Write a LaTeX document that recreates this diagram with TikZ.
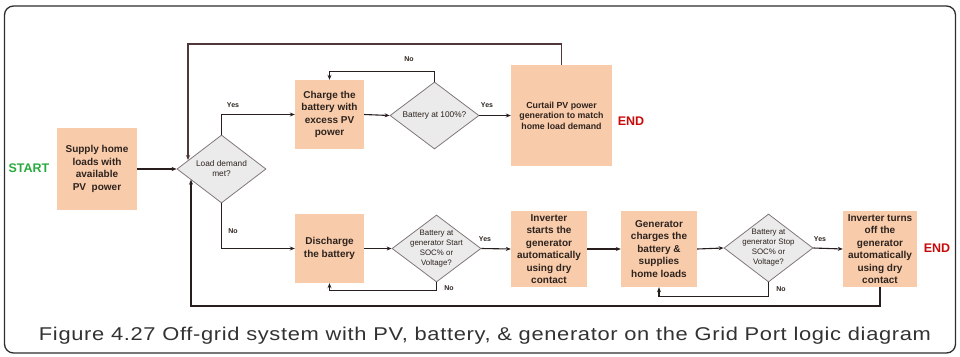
\documentclass[tikz,border=0pt]{standalone}
\usepackage{fontspec}
\setmainfont{Liberation Sans}
\usetikzlibrary{shapes.geometric,arrows.meta,calc}
\definecolor{peach}{RGB}{248,203,170}
\definecolor{dgray}{RGB}{235,235,235}
\definecolor{dborder}{RGB}{130,120,120}
\definecolor{txt}{RGB}{45,35,30}
\definecolor{conn}{RGB}{40,30,30}
\definecolor{loopc}{RGB}{80,55,58}
\definecolor{startg}{RGB}{40,170,60}
\definecolor{endr}{RGB}{200,10,10}
\definecolor{capc}{RGB}{50,50,50}
\tikzset{
  box/.style={rectangle, fill=peach, inner sep=0pt, align=center, text=txt,
    font=\fontsize{10}{12.5}\selectfont\bfseries},
  dia/.style={diamond, fill=dgray, draw=dborder, line width=0.8pt, inner sep=0pt},
  dtext/.style={align=center, text=txt, font=\fontsize{8.3}{10}\selectfont},
  arr/.style={draw=conn, line width=1.1pt, -{Stealth[length=5pt,width=4pt]}},
  lbl/.style={text=txt, font=\fontsize{7}{8}\selectfont\bfseries},
  endlbl/.style={text=endr, font=\fontsize{12.5}{14}\selectfont\bfseries},
}
\begin{document}
\begin{tikzpicture}[x=1pt,y=-1pt]
\useasboundingbox (0,0) rectangle (960,356);
\draw[capc!90!black, line width=1.3pt, rounded corners=9pt] (4.5,6) rectangle (955.5,353);

% nodes
\node[text=startg, font=\fontsize{12.5}{14}\selectfont\bfseries] (start) at (29,168) {START};
\node[box, minimum width=80pt, minimum height=82pt] (supply) at (97,169) {Supply home\\loads with\\available\\PV\ \ power};
\node[dia, minimum width=89pt, minimum height=68pt] (d1) at (221.5,169) {};
\node[dtext] at (d1) {Load demand\\met?};
\node[box, minimum width=69pt, minimum height=69pt] (charge) at (329.5,114.5) {Charge the\\battery with\\excess PV\\power};
\node[dia, minimum width=89pt, minimum height=67pt] (d2) at (434.5,115.5) {};
\node[dtext] at (d2) {Battery at 100\%?};
\node[box, minimum width=101pt, minimum height=101pt, font=\fontsize{8.8}{10.5}\selectfont\bfseries] (curtail) at (561.5,115.5) {Curtail PV power\\generation to match\\home load demand};
\node[endlbl] (end1) at (631,121) {END};

\node[box, minimum width=69pt, minimum height=69pt] (discharge) at (329.5,248.5) {Discharge\\the battery};
\node[dia, minimum width=89pt, minimum height=67pt] (d3) at (436.5,248.5) {};
\node[dtext, font=\fontsize{7.9}{10}\selectfont] at (d3) {Battery at\\generator Start\\SOC\% or\\Voltage?};
\node[box, minimum width=76pt, minimum height=76pt] (invstart) at (549,249) {Inverter\\starts the\\generator\\automatically\\using dry\\contact};
\node[box, minimum width=76pt, minimum height=76pt] (gen) at (659,249) {Generator\\charges the\\battery \&\\supplies\\home loads};
\node[dia, minimum width=89pt, minimum height=68pt] (d4) at (768.5,248) {};
\node[dtext, font=\fontsize{7.9}{10}\selectfont] at (d4) {Battery at\\generator Stop\\SOC\% or\\Voltage?};
\node[box, minimum width=74pt, minimum height=76pt] (invoff) at (880,249) {Inverter turns\\off the\\generator\\automatically\\using dry\\contact};
\node[endlbl] (end2) at (937,248) {END};

% connectors
\draw[arr] (supply.east) -- (d1.west);
\draw[arr] (d1.north) |- (charge.west);
\node[lbl] at (233,105) {Yes};
\draw[arr] (charge.east) -- (d2.west);
\draw[arr] (d2.north) -- ++(0,-10) -| (charge.north);
\node[lbl] at (409,59) {No};
\draw[arr] (d2.east) -- (curtail.west);
\node[lbl] at (487,105) {Yes};
\coordinate (tl) at (188,44);
\draw[arr, draw=loopc] (curtail.north) |- (tl) -- (tl |- d1.165);

\draw[arr] (d1.south) |- (discharge.west);
\node[lbl] at (233,231) {No};
\draw[arr] (discharge.east) -- (d3.west);
\draw[arr] (d3.south) -- ++(0,8) -| (discharge.south);
\node[lbl] at (449,288) {No};
\draw[arr] (d3.east) -- (invstart.west);
\node[lbl] at (485,239) {Yes};
\draw[arr] (invstart.east) -- (gen.west);
\draw[arr] (gen.east) -- (d4.west);
\draw[arr] (d4.south) -- ++(0,14) -| (gen.south);
\node[lbl] at (781,289) {No};
\draw[arr] (d4.east) -- (invoff.west);
\node[lbl] at (820,239) {Yes};
\coordinate (bl) at (191,306);
\draw[arr] (invoff.south) |- (bl) -- (bl |- d1.199);

% caption
\node[text=capc, font=\fontsize{18.5}{20}\selectfont, inner sep=0pt, anchor=base] (cap) at (485,340)
  {\resizebox{892pt}{\height}{\addfontfeature{LetterSpace=3}Figure 4.27 Off-grid system with PV, battery, \& generator on the Grid Port logic diagram}};
\end{tikzpicture}
\end{document}
